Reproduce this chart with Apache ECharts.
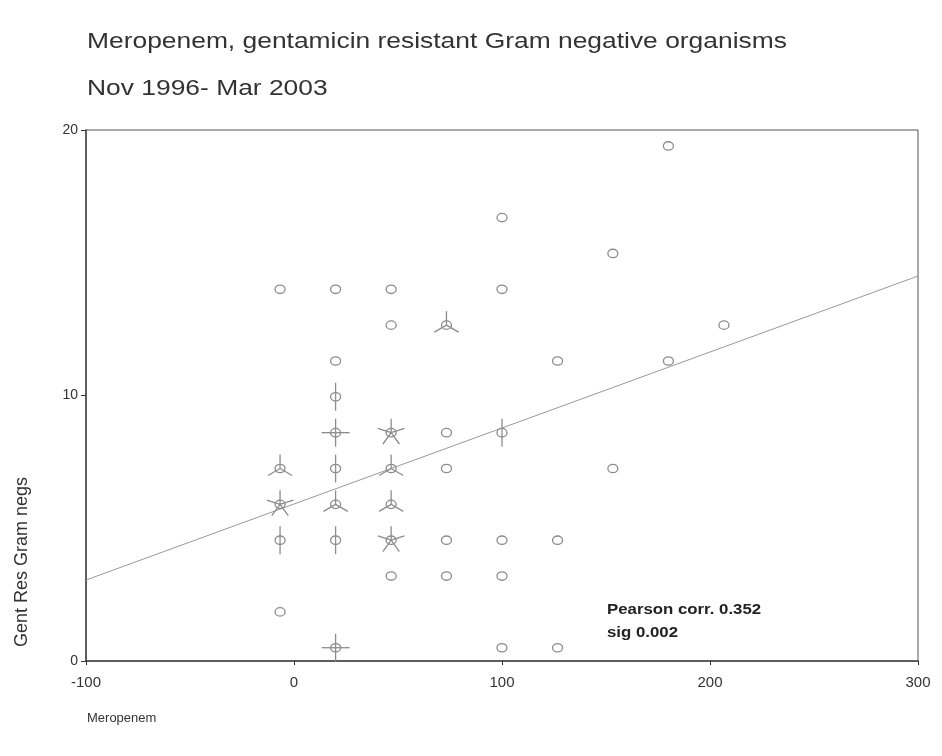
<!DOCTYPE html>
<html>
<head>
<meta charset="utf-8">
<script src="https://cdn.jsdelivr.net/npm/echarts@6/dist/echarts.min.js"></script>
<style>
  html, body { margin: 0; padding: 0; background: #fff; }
  #chart { width: 942px; height: 756px; }
</style>
</head>
<body>
<div id="chart"></div>
<script>
// Sunflower plot: each cell is a distinct (meropenem, gentamicin-resistant) pair,
// and the number of petals shows how many months share that pair.
const meropenem = [
  -6.7, -6.7, -6.7, -6.7, -6.7,
  20, 20, 20, 20, 20, 20, 20, 20,
  46.7, 46.7, 46.7, 46.7, 46.7, 46.7, 46.7,
  73.3, 73.3, 73.3, 73.3, 73.3,
  100, 100, 100, 100, 100, 100,
  126.7, 126.7, 126.7,
  153.3, 153.3,
  180, 180,
  206.7
];
const gentResGramNegs = [
  14.0, 7.25, 5.9, 4.55, 1.85,
  14.0, 11.3, 9.95, 8.6, 7.25, 5.9, 4.55, 0.5,
  14.0, 12.65, 8.6, 7.25, 5.9, 4.55, 3.2,
  12.65, 8.6, 7.25, 4.55, 3.2,
  16.7, 14.0, 8.6, 4.55, 3.2, 0.5,
  11.3, 4.55, 0.5,
  15.35, 7.25,
  19.4, 11.3,
  12.65
];
const frequency = [
  1, 3, 5, 2, 1,
  1, 1, 2, 4, 2, 3, 2, 4,
  1, 1, 5, 3, 3, 5, 1,
  3, 1, 1, 1, 1,
  1, 1, 2, 1, 1, 1,
  1, 1, 1,
  1, 1,
  1, 1,
  1
];

// Least-squares fit line end points
const fitX = [-100, 300];
const fitY = [3.05, 14.5];

const titleText = 'Meropenem, gentamicin resistant Gram negative organisms';
const subtitleText = 'Nov 1996- Mar 2003';
const xName = 'Meropenem';
const yName = 'Gent Res Gram negs';
const statsLines = ['Pearson corr. 0.352', 'sig 0.002'];

const markColor = '#8c8c8c';
const fontFamily = '"Liberation Sans", Arial, sans-serif';
const textWiden = 1.2;

const sunflowerData = meropenem.map((x, i) => [x, gentResGramNegs[i], frequency[i]]);
const fitData = fitX.map((x, i) => [x, fitY[i]]);

function renderSunflower(params, api) {
  const c = api.coord([api.value(0), api.value(1)]);
  const n = api.value(2);
  const children = [{
    type: 'ellipse',
    shape: { cx: c[0], cy: c[1], rx: 5, ry: 4.2 },
    style: { fill: 'none', stroke: markColor, lineWidth: 1.3 }
  }];
  if (n >= 2) {
    const len = 14;
    for (let k = 0; k < n; k++) {
      const a = -Math.PI / 2 + k * 2 * Math.PI / n;
      children.push({
        type: 'line',
        shape: { x1: c[0], y1: c[1], x2: c[0] + len * Math.cos(a), y2: c[1] + len * Math.sin(a) },
        style: { stroke: markColor, lineWidth: 1.3 }
      });
    }
  }
  return { type: 'group', children };
}

const chart = echarts.init(document.getElementById('chart'), null, { renderer: 'canvas' });
chart.setOption({
  backgroundColor: '#fff',
  animation: false,
  textStyle: { fontFamily: fontFamily },
  grid: {
    left: 86, right: 24, top: 130, bottom: 95,
    show: true, borderColor: '#555', borderWidth: 1
  },
  xAxis: {
    type: 'value', min: -100, max: 300, interval: 100,
    axisLine: { show: true, onZero: false, lineStyle: { color: '#444', width: 1.5 } },
    axisTick: { show: true, inside: false, length: 4, lineStyle: { color: '#333' } },
    axisLabel: { color: '#333', fontSize: 15, margin: 14 },
    splitLine: { show: false }
  },
  yAxis: {
    type: 'value', min: 0, max: 20, interval: 10,
    axisLine: { show: true, onZero: false, lineStyle: { color: '#444', width: 1.5 } },
    axisTick: { show: true, inside: false, length: 5, lineStyle: { color: '#333' } },
    axisLabel: { color: '#333', fontSize: 14, margin: 8 },
    splitLine: { show: false }
  },
  series: [
    {
      type: 'line',
      data: fitData,
      symbol: 'none',
      lineStyle: { color: '#9a9a9a', width: 1 },
      z: 2
    },
    {
      type: 'custom',
      data: sunflowerData,
      renderItem: renderSunflower,
      encode: { x: 0, y: 1 },
      z: 3
    }
  ],
  graphic: [
    { type: 'text', x: 87, y: 42, scaleX: textWiden, style: { text: titleText, fill: '#333', font: '22px ' + fontFamily, verticalAlign: 'middle' } },
    { type: 'text', x: 87, y: 89, scaleX: textWiden, style: { text: subtitleText, fill: '#333', font: '22px ' + fontFamily, verticalAlign: 'middle' } },
    { type: 'text', x: 87, y: 718, style: { text: xName, fill: '#333', font: '13px ' + fontFamily, verticalAlign: 'middle' } },
    {
      type: 'text', x: 22, y: 562, rotation: Math.PI / 2,
      style: { text: yName, fill: '#333', font: '18px ' + fontFamily, align: 'center', verticalAlign: 'middle' }
    },
    { type: 'text', x: 607, y: 610, scaleX: textWiden, style: { text: statsLines[0], fill: '#222', font: 'bold 14px ' + fontFamily, verticalAlign: 'middle' } },
    { type: 'text', x: 607, y: 633, scaleX: textWiden, style: { text: statsLines[1], fill: '#222', font: 'bold 14px ' + fontFamily, verticalAlign: 'middle' } }
  ]
});
</script>
</body>
</html>
